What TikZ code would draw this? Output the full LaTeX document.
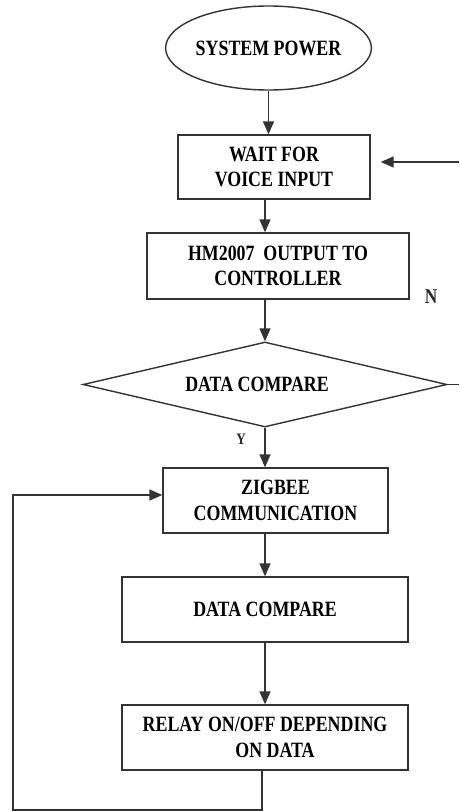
\documentclass[tikz,border=0pt]{standalone}
\usepackage{fontspec}
\setmainfont{Liberation Serif}[FakeStretch=0.82]
\usetikzlibrary{shapes.geometric,arrows.meta}
\begin{document}
\begin{tikzpicture}[x=1pt,y=-1pt,
  ln/.style={line width=1.4pt,draw=black!80},
  arr/.style={ln,-{Triangle[length=13pt,width=11pt]}},
  txt/.style={font=\bfseries\fontsize{21.8}{25.5}\selectfont,align=center,text=black},
  boxst/.style={ln,txt,rectangle,inner sep=0pt},
  lab/.style={font=\bfseries\fontsize{21}{22}\selectfont,text=black!85,inner sep=0pt}]
\useasboundingbox (0,0) rectangle (459,811);
\fill[white] (0,0) rectangle (459,811);
% nodes
\node[ln,txt,ellipse,minimum width=203pt,minimum height=84pt,inner sep=0pt] (sp) at (268.5,48) {SYSTEM POWER};
\node[boxst,minimum width=192pt,minimum height=64pt] (b1) at (274,167) {WAIT FOR\\VOICE INPUT};
\node[boxst,minimum width=262pt,minimum height=66pt] (b2) at (278,266) {HM2007\ \ OUTPUT TO\\CONTROLLER};
\node[ln,txt,diamond,aspect=4.3,minimum width=364pt,minimum height=85pt,inner sep=0pt] (dc) at (265,384.5) {DATA COMPARE\hspace*{16pt}};
\node[boxst,minimum width=225pt,minimum height=65pt] (b3) at (275.5,500.5) {ZIGBEE\\COMMUNICATION};
\node[boxst,minimum width=286pt,minimum height=65pt] (b4) at (265,609.5) {DATA COMPARE};
\node[boxst,minimum width=286pt,minimum height=65pt] (b5) at (265,737.5) {RELAY ON/OFF DEPENDING\\\hspace*{20pt}ON DATA};
\node[lab] (n) at (431,297) {N};
\node[lab,font=\bfseries\fontsize{16}{18}\selectfont] (y) at (241,439) {Y};
% coordinates
\coordinate (fin) at (459,162);
\coordinate (r1) at (262,810);
\coordinate (r2) at (13,495);
% connectors
\draw[arr] (sp.south) -- (sp.south |- b1.north);
\draw[arr] (b1.south -| dc.north) -- (b2.north -| dc.north);
\draw[arr] (b2.south -| dc.north) -- (dc.north);
\draw[arr] (dc.south) -- (b3.north -| dc.south);
\draw[arr] (b3.south -| dc.south) -- (b4.north -| dc.south);
\draw[arr] (b4.south -| dc.south) -- (b5.north -| dc.south);
\draw[arr,shorten >=10pt] (fin) -- (fin -| b1.east);
\draw[ln] (dc.east) -- (dc.east -| fin);
\draw[arr] (b5.south -| r1) -- (r1) -| (r2) -- (r2 -| b3.west);
\end{tikzpicture}
\end{document}
